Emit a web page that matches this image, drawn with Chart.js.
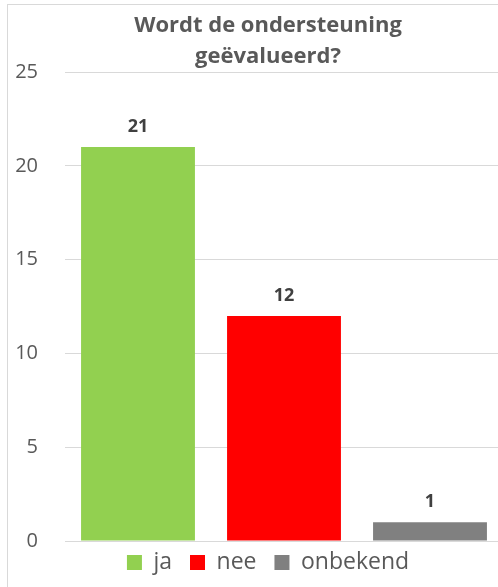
<!DOCTYPE html>
<html>
<head>
<meta charset="utf-8">
<script src="https://cdn.jsdelivr.net/npm/chart.js@4/dist/chart.umd.min.js"></script>
<style>
  html, body { margin: 0; padding: 0; background: #fff; overflow: hidden; }
  #wrap { position: absolute; left: 7px; top: 4px; width: 520px; height: 600px; border: 1px solid #d9d9d9; }
</style>
</head>
<body>
<div id="wrap"><canvas id="chart"></canvas></div>
<script>
const titleLines = ['Wordt de ondersteuning', 'geëvalueerd?'];
const seriesNames = ['ja', 'nee', 'onbekend'];
const seriesValues = [21, 12, 1];
const seriesColors = ['#92D050', '#FF0000', '#808080'];
const yTicks = [0, 5, 10, 15, 20, 25];

const FONT = "'Open Sans', 'DejaVu Sans', sans-serif";
const LEGEND_SHIFT = 16; // pull the legend up closer to the axis, like the original

// draws the value above every bar
const valueLabels = {
    id: 'valueLabels',
    afterDatasetsDraw(chart) {
        const ctx = chart.ctx;
        ctx.save();
        ctx.font = 'bold 18px ' + FONT;
        ctx.fillStyle = '#404040';
        ctx.textAlign = 'center';
        ctx.textBaseline = 'bottom';
        chart.data.datasets.forEach((ds, i) => {
            const meta = chart.getDatasetMeta(i);
            meta.data.forEach((bar, j) => {
                ctx.fillText(ds.data[j], bar.x, bar.y - 11);
            });
        });
        ctx.restore();
    }
};

const legendNudge = {
    id: 'legendNudge',
    afterLayout(chart) {
        if (chart.legend) {
            chart.legend.top -= LEGEND_SHIFT;
            chart.legend.bottom -= LEGEND_SHIFT;
        }
    }
};

const ctx = document.getElementById('chart').getContext('2d');
new Chart(ctx, {
    type: 'bar',
    data: {
        labels: [''],
        datasets: seriesNames.map((name, i) => ({
            label: name,
            data: [seriesValues[i]],
            backgroundColor: seriesColors[i],
            borderWidth: 0,
            categoryPercentage: 1.0,
            barPercentage: 0.78
        }))
    },
    options: {
        responsive: true,
        maintainAspectRatio: false,
        animation: false,
        layout: { padding: { left: 0, right: 0, top: 0, bottom: 5 } },
        plugins: {
            title: {
                display: true,
                text: titleLines,
                color: '#595959',
                font: { family: FONT, size: 22, weight: 'bold', lineHeight: 1.41 },
                padding: { top: 5, bottom: 0 }
            },
            legend: {
                position: 'bottom',
                labels: {
                    color: '#595959',
                    font: { family: FONT, size: 23 },
                    boxWidth: 15,
                    boxHeight: 15,
                    padding: 18
                }
            },
            tooltip: { enabled: false }
        },
        scales: {
            x: {
                grid: { display: false },
                border: { display: true, color: '#d9d9d9' },
                ticks: { display: false }
            },
            y: {
                min: 0,
                max: 25,
                afterFit: s => { s.width = 57; },
                afterBuildTicks: s => { s.ticks = yTicks.map(v => ({ value: v })); },
                grid: { color: '#d9d9d9', drawTicks: false },
                border: { display: false },
                ticks: {
                    color: '#595959',
                    font: { family: FONT, size: 20 },
                    padding: 27
                }
            },
            // empty right-hand axis, only keeps the plot area off the right edge
            yRight: {
                position: 'right',
                min: 0,
                max: 25,
                afterFit: s => { s.width = 25; },
                grid: { display: false },
                border: { display: false },
                ticks: { display: false }
            }
        }
    },
    plugins: [valueLabels, legendNudge]
});
</script>
</body>
</html>
